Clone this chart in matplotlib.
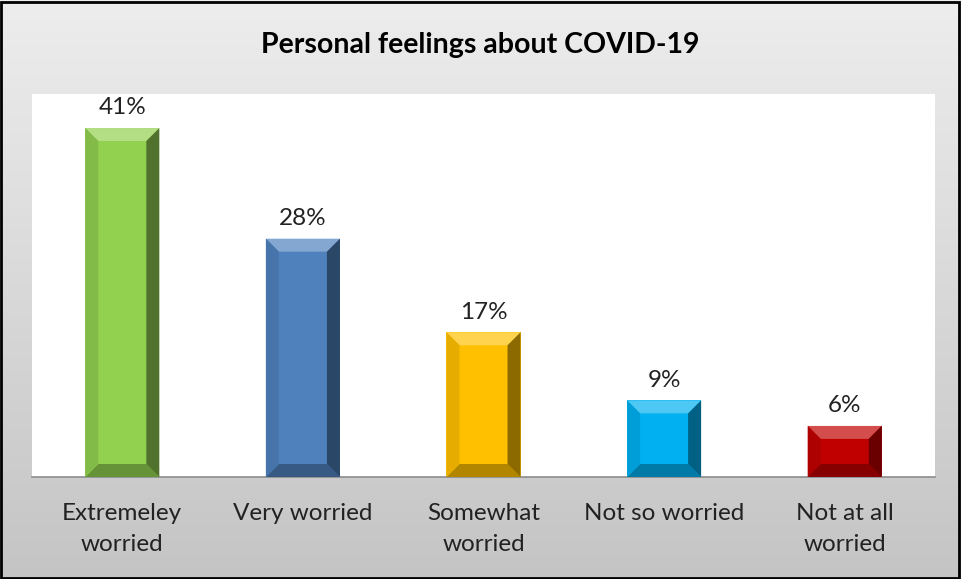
import matplotlib.pyplot as plt
import numpy as np
from matplotlib.patches import Polygon, Rectangle
from matplotlib.transforms import IdentityTransform
from matplotlib.colors import to_rgb

categorias = ['Extremeley\nworried', 'Very worried', 'Somewhat\nworried', 'Not so worried', 'Not at all\nworried']
valores = [41, 28, 17, 9, 6]
colores = ['#92d050', '#4f81bd', '#ffc000', '#00b0f0', '#c00000']

plt.rcParams['font.family'] = ['Lato', 'DejaVu Sans']

fig = plt.figure(figsize=(9.61, 5.79), dpi=100)

# fondo degradado
fondo = fig.add_axes([0, 0, 1, 1], zorder=-10)
grad = np.linspace(0.93, 0.77, 256).reshape(-1, 1)
fondo.imshow(np.dstack([grad, grad, grad]), aspect='auto', extent=[0, 1, 0, 1])
fondo.set_axis_off()
fig.patches.append(Rectangle((0.001, 0.002), 0.997, 0.995, transform=fig.transFigure,
                             fill=False, edgecolor='black', linewidth=2))

ax = fig.add_axes([32 / 961, 1 - 477 / 579, 903 / 961, 383 / 579])
x = np.arange(len(valores))
barras = ax.bar(x, valores, width=0.41, color=colores, zorder=2)
ax.set_xlim(-0.5, len(valores) - 0.5)
ax.set_ylim(0, 45)
ax.set_yticks([])
ax.set_xticks(x, categorias, fontsize=17.5, color='#222222', linespacing=1.55)
ax.tick_params(axis='x', length=0, pad=19)
for lado in ['top', 'left', 'right']:
    ax.spines[lado].set_visible(False)
ax.spines['bottom'].set_color('#8c8c8c')
ax.spines['bottom'].set_linewidth(1.2)

fig.canvas.draw()


def mezclar(c, f):
    c = np.array(to_rgb(c))
    if f > 0:
        return tuple(c + (1 - c) * f)
    return tuple(c * (1 + f))


# efecto bisel
for b, col in zip(barras, colores):
    bb = b.get_window_extent()
    x0, y0, x1, y1 = bb.x0, bb.y0, bb.x1, bb.y1
    d = min(13, (y1 - y0) / 2)
    caras = [
        ([(x0, y1), (x1, y1), (x1 - d, y1 - d), (x0 + d, y1 - d)], 0.3),
        ([(x0, y0), (x1, y0), (x1 - d, y0 + d), (x0 + d, y0 + d)], -0.3),
        ([(x1, y0), (x1, y1), (x1 - d, y1 - d), (x1 - d, y0 + d)], -0.45),
        ([(x0, y0), (x0, y1), (x0 + d, y1 - d), (x0 + d, y0 + d)], -0.1),
    ]
    for pts, f in caras:
        ax.add_patch(Polygon(pts, closed=True, transform=IdentityTransform(),
                             facecolor=mezclar(col, f), edgecolor='none', zorder=3))

for xi, v in zip(x, valores):
    ax.annotate(f'{v}%', (xi, v), xytext=(0, 7), textcoords='offset points',
                ha='center', va='bottom', fontsize=17.5, color='#222222')

fig.text(0.5, 1 - 45 / 579, 'Personal feelings about COVID-19', ha='center', va='center',
         fontsize=20.5, fontweight='bold', color='black')

plt.savefig('out.png', dpi=100)
plt.close()
